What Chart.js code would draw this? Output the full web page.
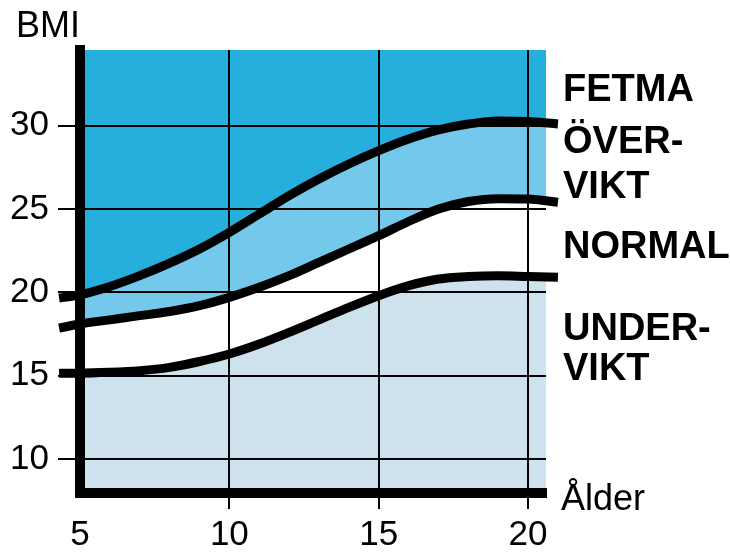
<!DOCTYPE html>
<html>
<head>
<meta charset="utf-8">
<title>BMI</title>
<script src="https://cdn.jsdelivr.net/npm/chart.js@4.4.1/dist/chart.umd.min.js"></script>
<style>
  html, body { margin: 0; padding: 0; background: #fff; }
</style>
</head>
<body>
<canvas id="bmicanvas" width="730" height="554"></canvas>
<script>
// limit curves (age -> BMI)
var ages = [4.3, 5, 6, 7, 8, 9, 10, 11, 12, 13, 14, 15, 16, 17, 18, 19, 20, 21];
var underLimit = [15.15, 15.15, 15.2, 15.3, 15.5, 15.85, 16.3, 16.9, 17.6, 18.35, 19.1, 19.8, 20.4, 20.8, 20.95, 21.0, 20.95, 20.9];
var overLimit = [17.85, 18.1, 18.35, 18.6, 18.85, 19.2, 19.7, 20.3, 21.0, 21.8, 22.6, 23.4, 24.25, 25.0, 25.45, 25.62, 25.6, 25.4];
var obeseLimit = [19.65, 19.85, 20.35, 21.0, 21.75, 22.6, 23.6, 24.7, 25.8, 26.8, 27.7, 28.5, 29.2, 29.75, 30.1, 30.28, 30.25, 30.1];
var xTicks = [5, 10, 15, 20];
var yTicks = [10, 15, 20, 25, 30];
var bandLabels = ['FETMA', 'ÖVER-', 'VIKT', 'NORMAL', 'UNDER-', 'VIKT'];
var xTitle = 'Ålder';
var yTitle = 'BMI';

var FONT = '"Liberation Sans", Arial, sans-serif';

function pts(vals) {
  return ages.map(function(a, i) { return {x: a, y: vals[i]}; });
}

// text at the right side and the axis titles
var sideText = {
  id: 'sideText',
  afterDraw: function(chart) {
    var ctx = chart.ctx;
    var area = chart.chartArea;
    var y = chart.scales.y;
    var lineVals = [31.5, 28.35, 25.65, 22.05, 17.15, 14.75];
    ctx.save();
    ctx.fillStyle = '#000';
    ctx.textAlign = 'left';
    ctx.textBaseline = 'alphabetic';
    ctx.font = 'bold 38px ' + FONT;
    for (var i = 0; i < bandLabels.length; i++) {
      ctx.fillText(bandLabels[i], area.right + 17, y.getPixelForValue(lineVals[i]));
    }
    ctx.font = '36px ' + FONT;
    ctx.fillText(xTitle, area.right + 15, area.bottom + 17);
    ctx.fillText(yTitle, 16, area.top - 13);
    ctx.restore();
  }
};

var curve = {
  borderColor: '#000',
  borderWidth: 9,
  pointRadius: 0,
  cubicInterpolationMode: 'monotone',
  clip: false
};

var chartdata = {
  datasets: [
    Object.assign({label: 'Undervikt', data: pts(underLimit), fill: 'start', backgroundColor: '#cde2ec'}, curve),
    Object.assign({label: 'Normal', data: pts(overLimit), fill: '-1', backgroundColor: '#ffffff'}, curve),
    Object.assign({label: 'Övervikt', data: pts(obeseLimit), fill: '-1', backgroundColor: '#74c8ec'}, curve),
    {
      label: 'Fetma',
      data: pts(obeseLimit),
      fill: 'end',
      backgroundColor: '#26aedc',
      borderColor: 'rgba(0,0,0,0)',
      borderWidth: 1,
      pointRadius: 0,
      cubicInterpolationMode: 'monotone'
    }
  ]
};

var ctx = document.getElementById('bmicanvas');

var bmiChart = new Chart(ctx, {
  type: 'line',
  data: chartdata,
  options: {
    responsive: false,
    devicePixelRatio: 1,
    animation: false,
    layout: { padding: { left: 0, top: 50, right: 184, bottom: 0 } },
    plugins: {
      legend: { display: false },
      tooltip: { enabled: false }
    },
    scales: {
      x: {
        type: 'linear',
        min: 5,
        max: 20.6,
        afterFit: function(scale) { scale.height = 61; },
        afterBuildTicks: function(scale) {
          scale.ticks = xTicks.map(function(v) { return {value: v}; });
        },
        grid: {
          z: 1,
          color: function(c) { return c.tick && c.tick.value === 5 ? 'rgba(0,0,0,0)' : '#000'; },
          lineWidth: 2,
          tickLength: 16
        },
        border: { display: true, color: '#000', width: 10, z: 2 },
        ticks: {
          color: '#000',
          padding: 5,
          maxRotation: 0,
          font: { family: FONT, size: 35 }
        }
      },
      y: {
        min: 7.96,
        max: 34.54,
        afterFit: function(scale) { scale.width = 80; },
        afterBuildTicks: function(scale) {
          scale.ticks = yTicks.map(function(v) { return {value: v}; });
        },
        grid: {
          z: 1,
          color: '#000',
          lineWidth: 2,
          tickLength: 22
        },
        border: { display: true, color: '#000', width: 10, z: 2 },
        ticks: {
          color: '#000',
          padding: 9,
          font: { family: FONT, size: 35 }
        }
      }
    }
  },
  plugins: [sideText]
});
</script>
</body>
</html>
